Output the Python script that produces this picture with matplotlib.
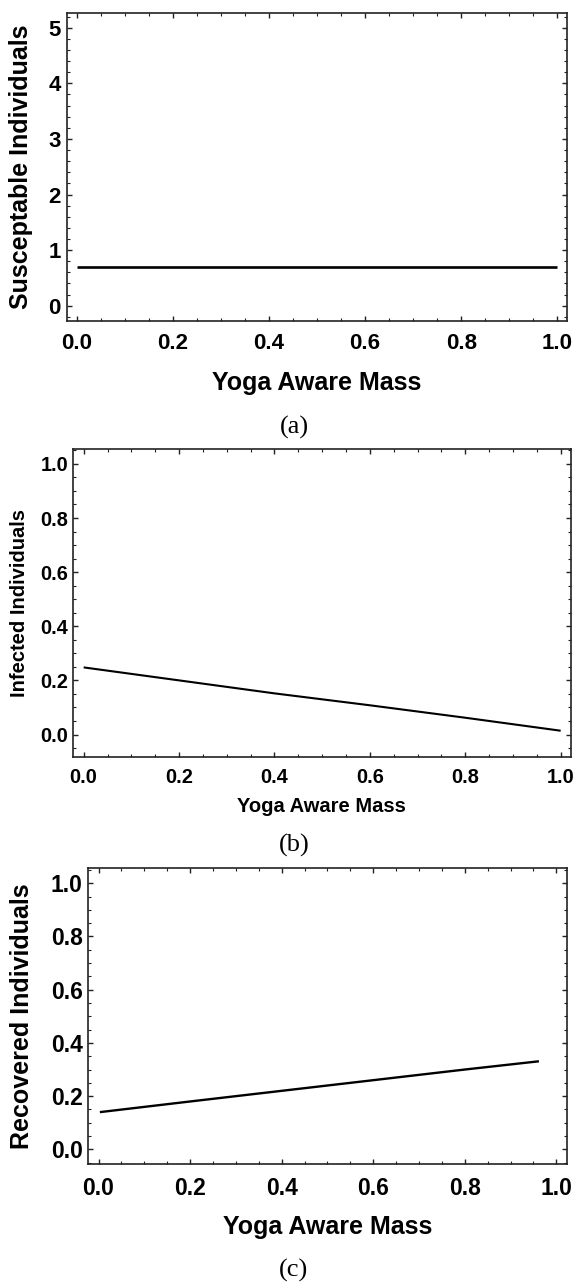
import matplotlib.pyplot as plt
from matplotlib.ticker import MultipleLocator

# datos
x_sus = [0.0, 1.0]
y_sus = [0.69, 0.69]

x_inf = [0.0, 0.2, 0.4, 0.6, 0.8, 1.0]
y_inf = [0.248, 0.200, 0.152, 0.108, 0.062, 0.014]

x_rec = [0.003, 0.2, 0.4, 0.6, 0.8, 0.962]
y_rec = [0.140, 0.180, 0.220, 0.260, 0.300, 0.331]

xlabel = "Yoga Aware Mass"
ylabels = ["Susceptable Individuals", "Infected Individuals", "Recovered Individuals"]
captions = ["(a)", "(b)", "(c)"]

W, H = 577, 1284
plt.rcParams['font.family'] = ['Liberation Sans', 'DejaVu Sans']
plt.rcParams['font.weight'] = 'bold'

fig = plt.figure(figsize=(W / 100, H / 100), dpi=100)

def px_axes(left, right, top, bottom):
    return fig.add_axes([left / W, 1 - bottom / H, (right - left) / W, (bottom - top) / H])

# caja en pixeles (izq, der, arriba, abajo), limites y tamanos de letra
paneles = [
    dict(box=(67, 567, 13.3, 321), x=x_sus, y=y_sus, xlim=(-0.0198, 1.0198), ylim=(-0.275, 5.259),
         ymaj=1, ymin=0.2, tick=16, lab=18, lw=1.9, xpad=8.6, ypad=4.5,
         ylab_r=33, xlab_top=370.7, cap_y=427),
    dict(box=(72.7, 570.7, 449, 756.7), x=x_inf, y=y_inf, xlim=(-0.023, 1.021), ylim=(-0.082, 1.055),
         ymaj=0.2, ymin=0.05, tick=14.3, lab=14.5, lw=1.5, xpad=7.9, ypad=3.2,
         ylab_r=29, xlab_top=796.7, cap_y=845),
    dict(box=(87.7, 566.7, 868.3, 1164.3), x=x_rec, y=y_rec, xlim=(-0.0236, 1.0227), ylim=(-0.056, 1.056),
         ymaj=0.2, ymin=0.05, tick=16.5, lab=18, lw=1.7, xpad=8.9, ypad=3.6,
         ylab_r=34, xlab_top=1215, cap_y=1270),
]

for p, ylab, cap in zip(paneles, ylabels, captions):
    left, right, top, bottom = p['box']
    ax = px_axes(left, right, top, bottom)
    ax.plot(p['x'], p['y'], color='black', lw=p['lw'], solid_capstyle='butt')
    ax.set_xlim(*p['xlim'])
    ax.set_ylim(*p['ylim'])
    ax.xaxis.set_major_locator(MultipleLocator(0.2))
    ax.xaxis.set_minor_locator(MultipleLocator(0.05))
    ax.yaxis.set_major_locator(MultipleLocator(p['ymaj']))
    ax.yaxis.set_minor_locator(MultipleLocator(p['ymin']))
    if p['ymaj'] == 1:
        ax.yaxis.set_major_formatter(plt.FormatStrFormatter('%d'))
    else:
        ax.yaxis.set_major_formatter(plt.FormatStrFormatter('%.1f'))
    ax.xaxis.set_major_formatter(plt.FormatStrFormatter('%.1f'))
    ax.tick_params(which='both', direction='in', top=True, right=True, color='#222222')
    ax.tick_params(which='major', length=3.6, width=1.0, labelsize=p['tick'])
    ax.tick_params(which='minor', length=2.0, width=0.8)
    ax.tick_params(axis='x', which='major', pad=p['xpad'])
    ax.tick_params(axis='y', which='major', pad=p['ypad'])
    for lbl in ax.get_xticklabels() + ax.get_yticklabels():
        lbl.set_fontweight('bold')
    for s in ax.spines.values():
        s.set_color('#222222')
        s.set_linewidth(1.2)

    ax.set_xlabel(xlabel, fontsize=p['lab'], fontweight='bold')
    ax.set_ylabel(ylab, fontsize=p['lab'], fontweight='bold')
    w_ax = right - left
    h_ax = bottom - top
    ax.yaxis.set_label_coords((p['ylab_r'] - left) / w_ax, 0.5)
    ax.xaxis.set_label_coords(0.5, -(p['xlab_top'] - bottom) / h_ax)

    fig.text(294 / W, 1 - p['cap_y'] / H, cap, ha='center', va='center',
             family='Liberation Serif', fontweight='normal', fontsize=19)

fig.savefig("out.png", dpi=100)
